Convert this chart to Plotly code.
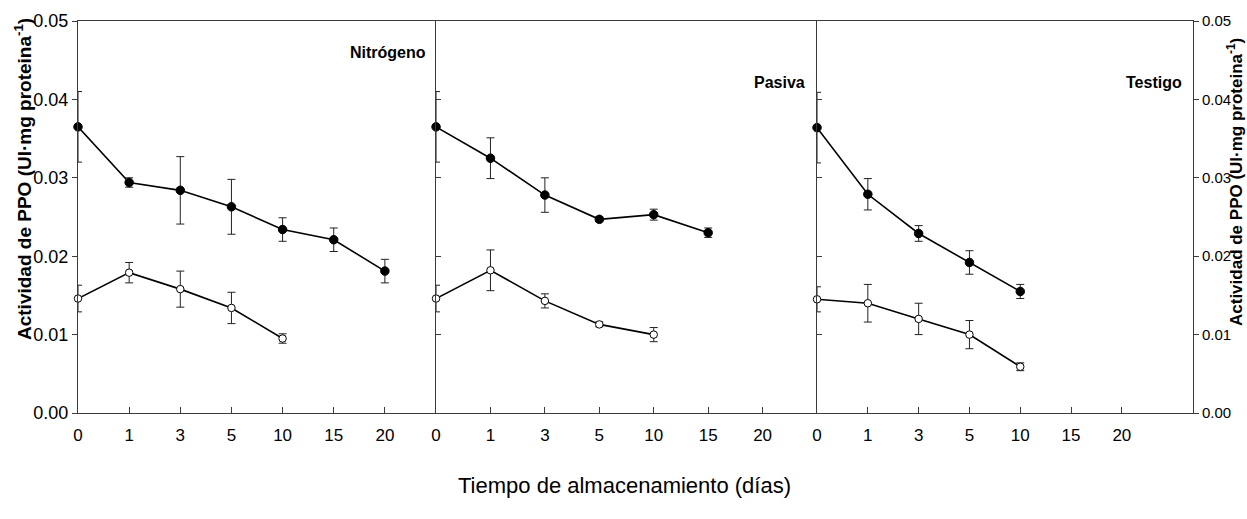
import plotly.graph_objects as go

# Storage days shown on every x axis (categorical positions)
dias = ["0", "1", "3", "5", "10", "15", "20"]

# PPO activity (UI·mg proteina^-1) per atmosphere; filled = series A, open = series B
nitro_dias_a = ["0", "1", "3", "5", "10", "15", "20"]
nitro_a = [0.0365, 0.0294, 0.0284, 0.0263, 0.0234, 0.0221, 0.0181]
nitro_a_err = [0.0045, 0.0006, 0.0043, 0.0035, 0.0015, 0.0015, 0.0015]
nitro_dias_b = ["0", "1", "3", "5", "10"]
nitro_b = [0.0146, 0.0179, 0.0158, 0.0134, 0.0095]
nitro_b_err = [0.0017, 0.0013, 0.0023, 0.0020, 0.0006]

pasiva_dias_a = ["0", "1", "3", "5", "10", "15"]
pasiva_a = [0.0365, 0.0325, 0.0278, 0.0247, 0.0253, 0.0230]
pasiva_a_err = [0.0045, 0.0026, 0.0022, 0.0003, 0.0007, 0.0006]
pasiva_dias_b = ["0", "1", "3", "5", "10"]
pasiva_b = [0.0146, 0.0182, 0.0143, 0.0113, 0.0100]
pasiva_b_err = [0.0017, 0.0026, 0.0009, 0.0003, 0.0009]

testigo_dias_a = ["0", "1", "3", "5", "10"]
testigo_a = [0.0364, 0.0279, 0.0229, 0.0192, 0.0155]
testigo_a_err = [0.0045, 0.0020, 0.0010, 0.0015, 0.0009]
testigo_dias_b = ["0", "1", "3", "5", "10"]
testigo_b = [0.0145, 0.0140, 0.0120, 0.0100, 0.0059]
testigo_b_err = [0.0016, 0.0024, 0.0020, 0.0018, 0.0005]

paneles = ["Nitrógeno", "Pasiva", "Testigo"]
y_ticks = [0.00, 0.01, 0.02, 0.03, 0.04, 0.05]

NARROW = "Liberation Sans Narrow, Arial Narrow, Liberation Sans, Arial, sans-serif"
ARIAL = "Liberation Sans, Arial, sans-serif"
INK = "#000000"
AXC = "#3a3a3a"

fig = go.Figure()

def idx(labels):
    return [dias.index(d) for d in labels]

series = [
    (nitro_dias_a, nitro_a, nitro_a_err, nitro_dias_b, nitro_b, nitro_b_err, "x", "y"),
    (pasiva_dias_a, pasiva_a, pasiva_a_err, pasiva_dias_b, pasiva_b, pasiva_b_err, "x2", "y2"),
    (testigo_dias_a, testigo_a, testigo_a_err, testigo_dias_b, testigo_b, testigo_b_err, "x3", "y3"),
]

for da, a, ae, db, b, be, xa, ya in series:
    fig.add_trace(go.Scatter(
        x=idx(da), y=a, xaxis=xa, yaxis=ya, mode="lines+markers",
        line=dict(color=INK, width=1.6),
        marker=dict(symbol="circle", size=8.5, color=INK, line=dict(color=INK, width=1)),
        error_y=dict(type="data", array=ae, visible=True, color="#222222", thickness=1, width=4),
        showlegend=False, cliponaxis=False,
    ))
    fig.add_trace(go.Scatter(
        x=idx(db), y=b, xaxis=xa, yaxis=ya, mode="lines+markers",
        line=dict(color=INK, width=1.6),
        marker=dict(symbol="circle", size=7.5, color="white", line=dict(color=INK, width=1)),
        error_y=dict(type="data", array=be, visible=True, color="#222222", thickness=1, width=4),
        showlegend=False, cliponaxis=False,
    ))

# invisible trace so the right-hand value axis is drawn
fig.add_trace(go.Scatter(x=[0], y=[0], xaxis="x3", yaxis="y4", mode="markers",
                         marker=dict(opacity=0), showlegend=False, hoverinfo="skip"))

doms = [[0.0, 0.3211], [0.3211, 0.6628], [0.6628, 1.0]]
xranges = [[0, 7], [0, 7], [0, 7.4]]

for i in range(3):
    sfx = "" if i == 0 else str(i + 1)
    fig.layout["xaxis" + sfx] = dict(
        domain=doms[i], range=xranges[i], anchor="y" + sfx,
        tickmode="array", tickvals=list(range(len(dias))), ticktext=dias,
        ticks="inside", ticklen=6, tickcolor=AXC, tickwidth=1,
        showline=True, linecolor=AXC, linewidth=1, mirror=True,
        showgrid=False, zeroline=False, ticklabelstandoff=7,
        tickfont=dict(family=NARROW, size=17, color=INK),
    )
    ydict = dict(
        domain=[0, 1], range=[0, 0.05], anchor="x" + sfx,
        tickmode="array", tickvals=y_ticks,
        showline=True, linecolor=AXC, linewidth=1, mirror=False,
        showgrid=False, zeroline=False, tickcolor=AXC, tickwidth=1, ticklen=5,
    )
    if i == 0:
        ydict.update(ticks="outside", tickformat=".2f",
                     tickfont=dict(family=NARROW, size=18, color=INK))
    else:
        ydict.update(ticks="inside", showticklabels=False)
    fig.layout["yaxis" + sfx] = ydict

fig.layout["yaxis4"] = dict(
    overlaying="y3", side="right", anchor="x3", range=[0, 0.05],
    tickmode="array", tickvals=y_ticks, tickformat=".2f",
    ticks="outside", ticklen=5, tickcolor=AXC, tickwidth=1,
    showline=True, linecolor=AXC, linewidth=1, showgrid=False, zeroline=False,
    tickfont=dict(family=NARROW, size=15, color=INK),
)

# value-axis titles, both reading bottom to top
ytitle = "<b>Actividad de PPO (UI·mg proteina<sup>-1</sup>)</b>"
for xpix, ypix, fs in [(23, 179, 19), (1235, 182, 17)]:
    fig.add_annotation(text=ytitle, xref="paper", yref="paper",
                       x=(xpix - 78) / 1115, y=(413 - ypix) / 392,
                       xanchor="center", yanchor="middle", textangle=-90,
                       showarrow=False, font=dict(family=ARIAL, size=fs, color=INK))

# panel names
title_pos = [(428, 52), (807, 82), (1184, 82)]
for name, (xpix, ypix) in zip(paneles, title_pos):
    fig.add_annotation(text="<b>" + name + "</b>", xref="paper", yref="paper",
                       x=(xpix - 78) / 1115, y=(413 - ypix) / 392,
                       xanchor="right", yanchor="middle",
                       showarrow=False, font=dict(family=NARROW, size=16, color=INK))

fig.add_annotation(text="Tiempo de almacenamiento (días)", xref="paper", yref="paper",
                   x=(624 - 78) / 1115, y=(413 - 485) / 392,
                   xanchor="center", yanchor="middle", showarrow=False,
                   font=dict(family=ARIAL, size=22, color=INK))

fig.update_layout(
    width=1247, height=519,
    margin=dict(l=78, r=54, t=21, b=106),
    paper_bgcolor="white", plot_bgcolor="white",
    showlegend=False,
)

fig.write_html("out.html")
